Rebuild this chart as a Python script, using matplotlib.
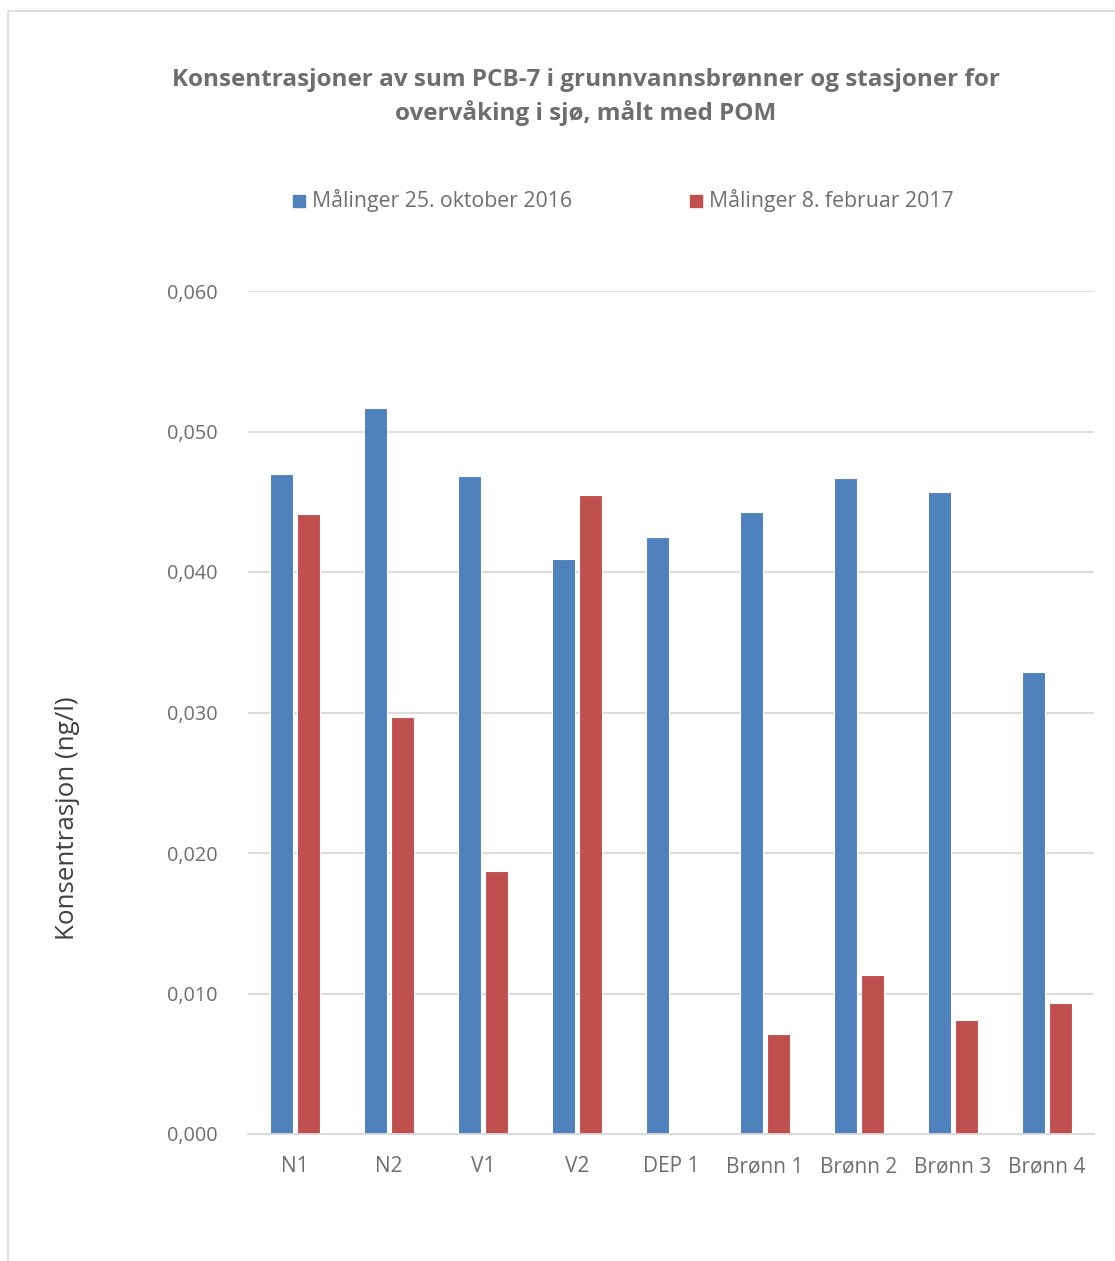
import numpy as np
import matplotlib.pyplot as plt
from matplotlib.patches import Rectangle

categories = ["N1", "N2", "V1", "V2", "DEP 1", "Brønn 1", "Brønn 2", "Brønn 3", "Brønn 4"]
oct_2016 = [0.0470, 0.0517, 0.0468, 0.0409, 0.0425, 0.0443, 0.0467, 0.0457, 0.0329]
feb_2017 = [0.0441, 0.0297, 0.0187, 0.0455, np.nan, 0.0071, 0.0113, 0.0081, 0.0093]
series_names = ["Målinger 25. oktober 2016", "Målinger 8. februar 2017"]
yticks = [0.0, 0.01, 0.02, 0.03, 0.04, 0.05, 0.06]

blue = "#4f81bd"
red = "#c0504d"
text_grey = "#6e6e6e"
grid_grey = "#d9d9d9"

plt.rcParams["font.family"] = ["Open Sans", "DejaVu Sans"]

fig = plt.figure(figsize=(11.15, 12.61), dpi=100)
ax = fig.add_axes([248 / 1115, 1 - 1134 / 1261, (1094 - 248) / 1115, (1134 - 291) / 1261])

x = np.arange(len(categories))
w = 0.245
off = 0.143
ax.bar(x - off, oct_2016, width=w, color=blue, edgecolor="white", linewidth=0.8, zorder=3)
ax.bar(x + off, feb_2017, width=w, color=red, edgecolor="white", linewidth=0.8, zorder=3)

ax.set_xlim(-0.5, len(categories) - 0.5)
ax.set_ylim(0, 0.06)
ax.set_yticks(yticks)
ax.set_yticklabels([f"{v:.3f}".replace(".", ",") for v in yticks])
ax.set_xticks(x)
ax.set_xticklabels(categories)
ax.tick_params(axis="both", length=0, labelsize=15, labelcolor=text_grey)
ax.tick_params(axis="y", labelsize=14.3, pad=22)
ax.tick_params(axis="x", pad=16)
ax.grid(axis="y", color=grid_grey, linewidth=1.3, zorder=0)
for s in ["top", "right", "left"]:
    ax.spines[s].set_visible(False)
ax.spines["bottom"].set_color(grid_grey)
ax.spines["bottom"].set_linewidth(1.3)
ax.spines["bottom"].set_zorder(4)

fig.text(586 / 1115, 1 - 97 / 1261,
         "Konsentrasjoner av sum PCB-7 i grunnvannsbrønner og stasjoner for\noverv\u00e5king i sj\u00f8, m\u00e5lt med POM",
         ha="center", va="center", fontsize=17.5, fontweight="bold", color=text_grey, linespacing=1.45)

fig.text(68 / 1115, 1 - 818 / 1261, "Konsentrasjon (ng/l)", rotation=90,
         ha="center", va="center", fontsize=18.7, color="#404040")

# legend
for px, name, c in [(293, series_names[0], blue), (690, series_names[1], red)]:
    fig.patches.append(Rectangle((px / 1115, 1 - 207 / 1261), 12 / 1115, 12 / 1261,
                                 transform=fig.transFigure, color=c))
    fig.text((px + 19) / 1115, 1 - 201 / 1261, name, ha="left", va="center",
             fontsize=15.3, color=text_grey)

# chart border
fig.patches.append(Rectangle((8 / 1115, -0.01), 1.02, 1 - 11 / 1261 + 0.01,
                             transform=fig.transFigure, fill=False,
                             edgecolor="#d9d9d9", linewidth=1.2))

fig.savefig("out.png", dpi=100, facecolor="white")
